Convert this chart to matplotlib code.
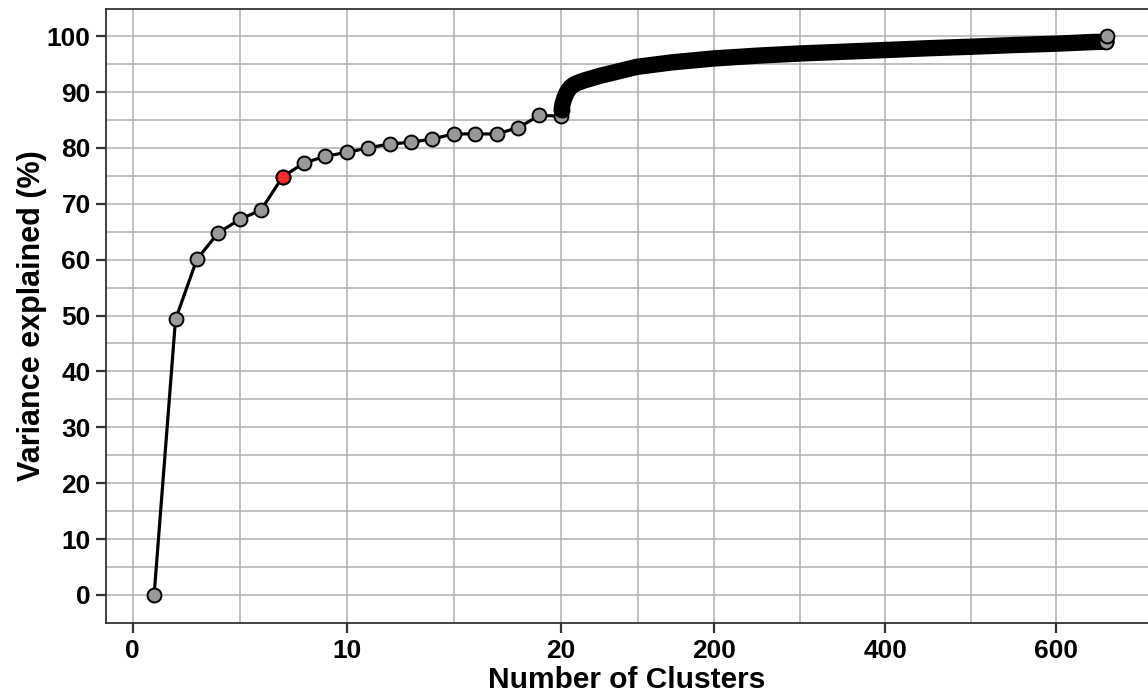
import numpy as np
import matplotlib
matplotlib.use("Agg")
import matplotlib.pyplot as plt

# ---- data ----
clusters_a = [1, 2, 3, 4, 5, 6, 7, 8, 9, 10, 11, 12, 13, 14, 15, 16, 17, 18, 19, 20, 21]
variance_a = [0.0, 49.3, 60.1, 64.8, 67.2, 68.9, 74.8, 77.3, 78.5, 79.2, 80.0, 80.7,
              81.0, 81.6, 82.5, 82.5, 82.5, 83.6, 85.8, 85.7, 86.8]
highlight_k = 7
highlight_v = 74.8

clusters_b = [22, 24, 27, 31, 36, 46, 66, 85, 109, 150, 199, 250, 301, 350, 398,
              453, 500, 550, 600, 644, 659]
variance_b = [87.8, 88.8, 89.9, 90.8, 91.4, 92.0, 92.9, 93.6, 94.5, 95.3, 96.0, 96.5,
              96.9, 97.2, 97.5, 97.85, 98.1, 98.4, 98.65, 98.95, 99.0]

clusters_end = [659, 660]
variance_end = [99.0, 100.0]

xtick_values = [0, 10, 20, 200, 400, 600]
xtick_labels = ["0", "10", "20", "200", "400", "600"]
xgrid_values = [0, 5, 10, 15, 20, 110, 200, 300, 400, 500, 600]
ytick_values = list(range(0, 101, 10))
ygrid_values = list(range(0, 101, 5))

BREAK = 20
SCALE2 = 0.0399


def xpos(k):
    k = np.asarray(k, dtype=float)
    return np.where(k <= BREAK, k, BREAK + (k - BREAK) * SCALE2)


plt.rcParams['font.family'] = ['Liberation Sans', 'DejaVu Sans']
plt.rcParams['font.weight'] = 'bold'

W, H = 1148, 696
fig = plt.figure(figsize=(W / 100, H / 100), dpi=100)
L, R, T, B = 106, 1148, 9.3, 622.7
ax = fig.add_axes([L / W, 1 - B / H, (R - L) / W, (B - T) / H])

ax.set_xlim(-1.248, 47.44)
ax.set_ylim(-4.96, 104.8)

grid_kw = dict(color='#b0b0b0', lw=1.1, zorder=0)
for g in xpos(xgrid_values):
    ax.axvline(g, **grid_kw)
for g in ygrid_values:
    ax.axhline(g, **grid_kw)

# first part: line + markers
ax.plot(xpos(clusters_a), variance_a, color='black', lw=2.3, zorder=2)
ax.plot(xpos(clusters_a), variance_a, ls='none', marker='o', ms=10,
        mfc='#999999', mec='black', mew=1.4, zorder=3)
ax.plot(xpos([highlight_k]), [highlight_v], ls='none', marker='o', ms=10,
        mfc='#ff2a2a', mec='black', mew=1.4, zorder=4)

# dense part: overlapping markers form a solid black band
ax.plot(xpos([clusters_a[-1]] + clusters_b), [variance_a[-1]] + variance_b,
        color='black', lw=11.8, solid_capstyle='round', solid_joinstyle='round', zorder=4)

ax.plot(xpos(clusters_end), variance_end, ls='none', marker='o', ms=10,
        mfc='#999999', mec='black', mew=1.4, zorder=5)

ax.set_xticks(xpos(xtick_values))
ax.set_xticklabels(xtick_labels)
ax.set_yticks(ytick_values)

ax.tick_params(axis='both', direction='out', length=7, width=1.6, color='#333333',
               labelsize=19, labelcolor='black')
ax.tick_params(axis='x', pad=5)
ax.tick_params(axis='y', pad=4)

for s in ['left', 'bottom', 'top']:
    ax.spines[s].set_color('#333333')
    ax.spines[s].set_linewidth(1.3)
ax.spines['right'].set_visible(False)

ax.set_xlabel('Number of Clusters', fontsize=21.5, fontweight='bold')
ax.set_ylabel('Variance explained (%)', fontsize=22, fontweight='bold')
ax.xaxis.set_label_coords(0.5, -0.07)
ax.yaxis.set_label_coords(-0.057, 0.5)

fig.savefig('out.png', dpi=100)
